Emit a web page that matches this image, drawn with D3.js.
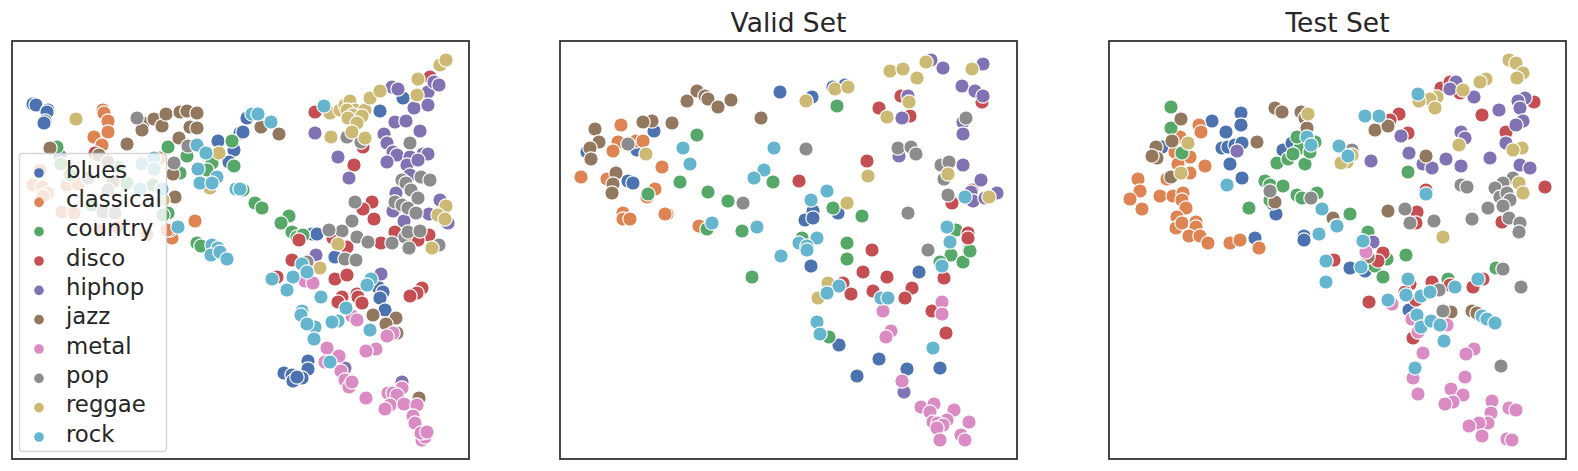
<!DOCTYPE html>
<html>
<head>
<meta charset="utf-8">
<script src="https://cdn.jsdelivr.net/npm/d3@7.9.0/dist/d3.min.js"></script>
<style>
  html, body { margin: 0; padding: 0; background: #fff; }
  svg { display: block; }
  text { font-family: "DejaVu Sans", sans-serif; fill: #262626; }
</style>
</head>
<body>
<svg id="chart" width="1578" height="471"></svg>
<script>
/* --- Genres + colours (seaborn deep) --- */
const genres = ['blues', 'classical', 'country', 'disco', 'hiphop', 'jazz', 'metal', 'pop', 'reggae', 'rock'];
const palette = ['#4C72B0', '#DD8452', '#55A868', '#C44E52', '#8172B3', '#937860', '#DA8BC3', '#8C8C8C', '#CCB974', '#64B5CD'];

/* --- Train set (embedding coords) --- */
const trainBlues = [[21,63],[24,64],[36,69],[35,71],[33,80],[32,82],[48,115],[206,100],[222,109],[217,121],[228,92],[231,91],[235,77],[300,193],[305,193],[323,216],[366,246],[371,251],[368,257],[373,269],[296,320],[296,328],[272,332],[280,334],[290,337],[281,340],[285,336],[368,70],[391,57]];
const trainClassical = [[91,69],[92,72],[96,80],[96,91],[82,96],[90,104],[183,180],[160,197],[158,189],[28,129],[21,144],[30,146],[36,152],[31,155],[55,144],[66,143],[50,171],[62,172],[88,189],[105,186],[135,194],[155,189],[148,117]];
const trainCountry = [[156,106],[175,115],[45,106],[200,122],[220,100],[222,125],[168,132],[195,129],[156,172],[185,202],[189,205],[49,123],[58,134],[80,164],[115,142],[141,144],[151,174],[106,126],[231,149],[243,162],[250,167],[277,175],[269,182],[280,191],[285,196],[291,194]];
const trainDisco = [[83,112],[287,199],[303,71],[351,106],[418,36],[342,124],[360,161],[351,168],[362,178],[383,191],[417,194],[369,202],[335,206],[321,197],[406,199],[280,219],[265,236],[323,238],[335,234],[330,256],[326,261],[345,253],[346,256],[350,262],[410,247],[405,252],[398,255]];
const trainHiphop = [[380,46],[386,48],[416,51],[422,41],[427,44],[402,67],[416,64],[383,81],[394,80],[408,90],[372,93],[375,102],[381,111],[385,114],[398,116],[411,113],[416,113],[375,121],[395,124],[406,119],[326,116],[337,137],[398,134],[384,152],[381,170],[392,180],[428,159],[417,173],[436,182],[303,92],[304,214],[369,233],[333,327],[390,341]];
const trainJazz = [[38,107],[87,114],[115,103],[131,82],[130,89],[142,78],[150,85],[154,73],[168,71],[175,70],[185,72],[178,86],[185,87],[167,97],[161,133],[163,156],[96,121],[101,141],[249,86],[267,93],[361,274],[384,277],[374,283],[385,292],[407,357]];
const trainMetal = [[293,240],[301,242],[340,275],[345,279],[381,292],[375,295],[364,308],[354,310],[315,307],[327,315],[313,321],[329,330],[333,339],[337,346],[340,341],[354,357],[390,347],[376,352],[381,352],[385,354],[378,364],[373,368],[392,363],[405,364],[401,375],[403,382],[410,399],[413,396],[409,392],[415,391]];
const trainPop = [[125,77],[176,105],[162,122],[76,137],[96,149],[91,171],[103,172],[335,96],[349,101],[398,102],[409,136],[418,139],[390,139],[394,142],[399,149],[406,157],[383,161],[390,164],[396,167],[404,172],[343,161],[340,180],[330,190],[317,189],[345,196],[356,201],[380,202],[393,196],[396,191],[408,190],[397,207],[427,204],[295,221],[333,218],[344,219]];
const trainReggae = [[64,78],[207,112],[198,147],[151,159],[319,96],[318,72],[328,69],[333,64],[338,60],[343,69],[335,69],[341,74],[336,77],[353,69],[350,75],[358,57],[368,50],[345,82],[340,91],[353,97],[428,24],[434,19],[406,38],[405,54],[434,165],[426,174],[433,178],[326,203],[420,207],[308,227]];
const trainRock = [[185,104],[194,112],[186,128],[188,142],[205,136],[200,142],[224,148],[166,186],[200,204],[206,207],[199,214],[208,211],[215,218],[130,123],[142,117],[142,128],[128,148],[150,148],[240,73],[246,73],[259,81],[228,148],[312,65],[290,223],[295,231],[260,238],[281,236],[275,249],[309,256],[359,238],[355,244],[334,267],[290,270],[289,274],[326,280],[320,281],[303,286],[295,283],[302,298],[358,289],[318,321]];

/* --- Valid set --- */
const validBlues = [[220,51],[94,90],[77,109],[27,111],[68,140],[73,142],[252,56],[285,44],[273,46],[253,170],[245,179],[253,177],[278,172],[251,225],[359,231],[279,304],[319,318],[347,328],[380,327],[297,335]];
const validClassical = [[61,84],[58,101],[53,110],[76,100],[83,100],[102,126],[21,136],[47,138],[95,148],[87,156],[63,172],[63,178],[70,178],[107,173],[105,173],[139,185]];
const validCountry = [[137,94],[120,141],[148,151],[168,160],[88,153],[213,141],[147,188],[182,190],[277,65],[273,167],[302,175],[287,202],[242,197],[396,189],[409,209],[287,218],[192,236],[391,214],[403,221],[410,210],[380,221],[269,296]];
const validDisco = [[341,55],[319,67],[350,75],[422,61],[307,120],[239,140],[392,162],[412,149],[408,192],[408,197],[312,209],[303,231],[327,236],[283,242],[291,253],[313,250],[352,247],[345,257],[384,237],[372,270],[386,292]];
const validHiphop = [[371,19],[383,27],[423,23],[402,45],[415,50],[423,55],[348,55],[342,77],[403,81],[403,93],[339,115],[403,124],[421,139],[411,151],[413,160],[437,152],[425,157],[344,351]];
const validJazz = [[137,50],[145,55],[148,58],[127,60],[158,66],[171,59],[201,77],[112,82],[92,80],[83,81],[35,88],[39,101],[30,107],[31,118],[56,132],[53,143],[52,152]];
const validMetal = [[323,270],[382,261],[382,273],[331,290],[326,296],[342,340],[361,366],[374,363],[370,371],[394,369],[409,381],[387,379],[373,381],[378,382],[383,384],[377,387],[380,399],[401,394],[405,399]];
const validPop = [[68,103],[183,162],[246,108],[338,107],[351,106],[356,113],[381,124],[389,121],[384,138],[406,77],[388,154],[348,172],[368,209]];
const validReggae = [[86,113],[246,60],[275,48],[288,46],[330,30],[343,28],[357,37],[366,21],[412,28],[327,76],[349,61],[308,135],[287,162],[388,133],[429,156],[268,242],[258,257]];
const validRock = [[123,107],[130,123],[214,107],[204,129],[194,137],[152,182],[197,186],[267,150],[251,159],[405,156],[387,186],[390,201],[257,197],[239,202],[247,205],[221,215],[247,209],[382,225],[279,245],[267,252],[321,257],[328,257],[257,281],[260,293],[373,307]];

/* --- Test set --- */
const testBlues = [[103,80],[132,72],[132,84],[117,91],[113,107],[119,106],[126,104],[133,102],[121,123],[133,137],[53,106],[174,109],[183,102],[167,173],[146,197],[195,195],[163,162],[241,227],[256,230],[264,201],[195,199],[300,269]];
const testClassical = [[90,84],[92,91],[71,96],[66,111],[81,116],[96,125],[69,123],[81,132],[58,138],[29,138],[31,150],[21,158],[33,168],[51,155],[64,155],[74,152],[73,159],[77,167],[68,176],[67,187],[73,182],[87,181],[87,186],[80,195],[91,195],[99,202],[121,202],[131,199],[150,207]];
const testCountry = [[62,66],[62,87],[73,112],[140,167],[156,140],[161,144],[174,145],[161,159],[188,154],[208,152],[193,157],[168,122],[179,118],[196,123],[191,107],[188,96],[206,101],[201,111],[184,113],[299,131],[241,173],[259,191],[278,218],[266,225],[274,236],[297,214],[339,238],[387,227]];
const testDisco = [[332,47],[341,41],[351,52],[290,73],[281,79],[299,92],[373,74],[425,61],[397,91],[436,146],[317,149],[308,171],[307,182],[393,181],[225,219],[274,212],[269,220],[260,261],[301,243],[307,259],[323,241],[341,244],[374,238],[364,246],[304,297],[296,251]];
const testHiphop = [[128,110],[347,41],[341,48],[365,56],[390,69],[416,57],[409,60],[411,67],[414,80],[407,84],[397,102],[292,95],[262,120],[300,112],[314,123],[323,127],[337,118],[352,125],[352,91],[356,97],[381,117],[411,124],[421,127],[264,201]];
const testJazz = [[72,78],[63,100],[47,106],[48,117],[43,115],[62,136],[148,101],[166,67],[173,71],[192,71],[196,77],[198,87],[166,161],[224,177],[266,89],[279,85],[317,115],[279,170],[259,216],[363,270],[368,272],[342,271]];
const testMetal = [[257,211],[283,263],[303,278],[338,284],[309,291],[314,312],[365,308],[357,313],[304,337],[356,336],[309,353],[342,348],[354,354],[344,361],[336,363],[383,360],[382,372],[379,382],[370,382],[360,385],[373,395],[400,367],[407,369],[398,398],[403,399]];
const testPop = [[161,150],[202,157],[243,109],[352,144],[358,146],[404,137],[394,142],[386,147],[391,156],[398,152],[401,159],[394,165],[379,167],[296,168],[301,182],[325,180],[363,178],[400,177],[411,182],[410,191],[394,228],[412,246],[330,249],[334,270],[392,325]];
const testReggae = [[79,102],[72,132],[199,73],[234,121],[400,19],[407,22],[414,32],[408,37],[377,38],[371,41],[354,49],[328,56],[321,58],[310,60],[326,67],[350,104],[413,107],[404,109],[410,142],[414,152],[334,196],[243,114],[238,121],[232,122]];
const testRock = [[118,144],[198,96],[202,104],[213,168],[210,193],[227,185],[230,106],[309,53],[256,75],[270,75],[230,105],[239,115],[317,153],[228,185],[253,200],[254,200],[217,220],[217,241],[252,226],[279,259],[299,238],[297,254],[312,255],[321,251],[346,246],[369,238],[308,274],[312,286],[322,280],[331,284],[335,300],[373,275],[378,278],[386,282],[306,327]];

/* --- Panel titles + series (in genre order, which is also draw order) --- */
const panelTitles = ['', 'Valid Set', 'Test Set'];
const panelSeries = [
  [trainBlues, trainClassical, trainCountry, trainDisco, trainHiphop, trainJazz, trainMetal, trainPop, trainReggae, trainRock],
  [validBlues, validClassical, validCountry, validDisco, validHiphop, validJazz, validMetal, validPop, validReggae, validRock],
  [testBlues, testClassical, testCountry, testDisco, testHiphop, testJazz, testMetal, testPop, testReggae, testRock]
];

/* --- Layout --- */
const svg = d3.select('#chart');
const panelLefts = [12, 560, 1109];
const panelWidth = 457;
const panelTop = 41;
const panelHeight = 418;
const color = d3.scaleOrdinal(genres, palette);

/* --- Draw the three scatter panels --- */
panelSeries.forEach((series, i) => {
  const x = d3.scaleLinear().domain([0, 457]).range([panelLefts[i], panelLefts[i] + panelWidth]);
  const y = d3.scaleLinear().domain([0, 418]).range([panelTop, panelTop + panelHeight]);
  const panel = svg.append('g').attr('class', 'panel');

  series.forEach((rows, g) => {
    panel.append('g').selectAll('circle')
      .data(rows)
      .join('circle')
      .attr('cx', d => x(d[0]))
      .attr('cy', d => y(d[1]))
      .attr('r', 7.2)
      .attr('fill', color(genres[g]))
      .attr('stroke', '#fff')
      .attr('stroke-width', 1.2);
  });

  panel.append('rect')
    .attr('x', panelLefts[i])
    .attr('y', panelTop)
    .attr('width', panelWidth)
    .attr('height', panelHeight)
    .attr('fill', 'none')
    .attr('stroke', '#333')
    .attr('stroke-width', 1.8);

  if (panelTitles[i]) {
    panel.append('text')
      .attr('x', panelLefts[i] + panelWidth / 2)
      .attr('y', 32)
      .attr('text-anchor', 'middle')
      .attr('font-size', 26.5)
      .text(panelTitles[i]);
  }
});

/* --- Legend on the first panel --- */
const legendRow = d3.scalePoint().domain(genres).range([173, 437]);
const legend = svg.append('g').attr('class', 'legend');

legend.append('rect')
  .attr('x', 19.5)
  .attr('y', 153.5)
  .attr('width', 147)
  .attr('height', 298)
  .attr('rx', 3)
  .attr('fill', '#fff')
  .attr('fill-opacity', 0.8)
  .attr('stroke', '#ccc')
  .attr('stroke-opacity', 0.8)
  .attr('stroke-width', 1.3);

const items = legend.selectAll('g.item')
  .data(genres)
  .join('g')
  .attr('class', 'item')
  .attr('transform', d => `translate(0,${legendRow(d)})`);

items.append('circle')
  .attr('cx', 39)
  .attr('r', 4.8)
  .attr('fill', d => color(d));

items.append('text')
  .attr('x', 66)
  .attr('y', 0)
  .attr('dy', '0.2em')
  .attr('font-size', 22.8)
  .text(d => d);
</script>
</body>
</html>
